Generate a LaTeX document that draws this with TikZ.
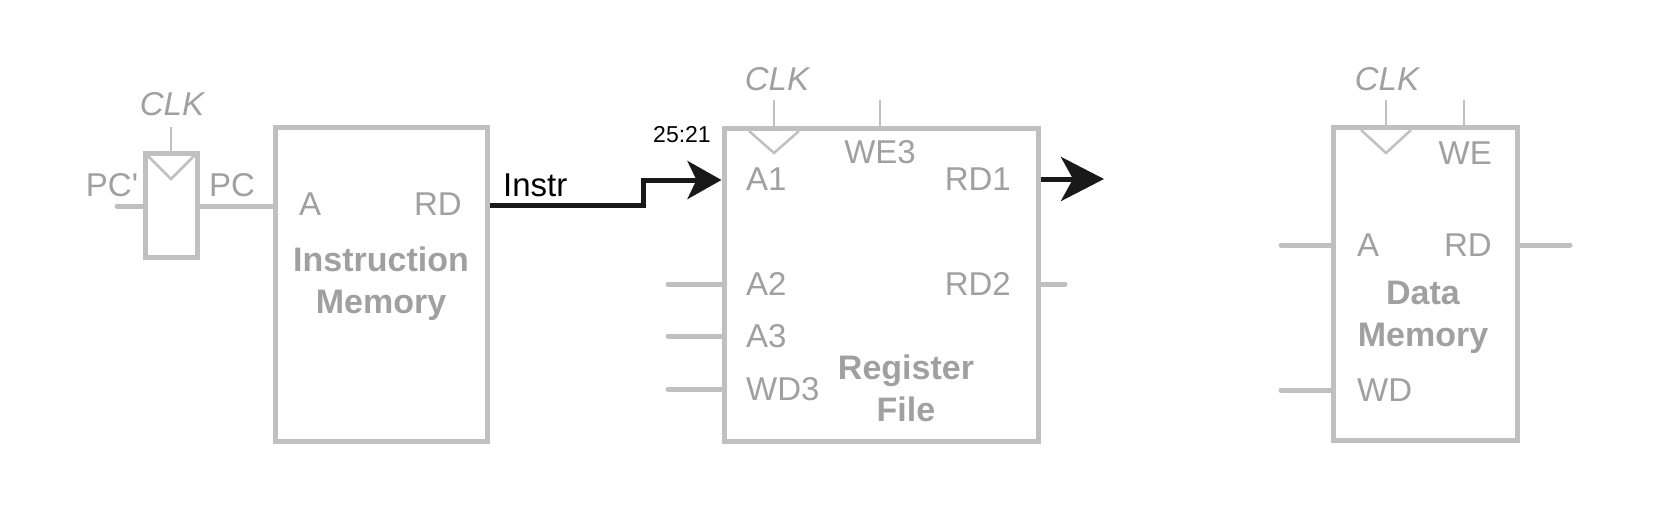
\documentclass[tikz,border=0pt]{standalone}
\usepackage{fontspec}
\setmainfont{Liberation Sans}
\usetikzlibrary{arrows.meta}
\definecolor{linegray}{RGB}{192,192,192}
\definecolor{textgray}{RGB}{160,160,160}
\tikzset{
  blockbox/.style={draw=linegray, line width=5pt, rectangle, inner sep=0pt, fill=none},
  pin/.style={draw=linegray, line width=5pt, line cap=round},
  thinpin/.style={draw=linegray, line width=2.5pt},
  clktri/.style={draw=linegray, line width=2.5pt},
  lbl/.style={text=textgray, font=\fontsize{33}{40}\selectfont, inner sep=0pt},
  ilbl/.style={text=textgray, font=\fontsize{33}{40}\selectfont\itshape, inner sep=0pt},
  blbl/.style={text=textgray, font=\fontsize{34}{42}\selectfont\bfseries, inner sep=0pt, align=center},
  wire/.style={draw=black!90, line width=5pt},
}
\begin{document}
\begin{tikzpicture}[x=1pt,y=-1pt]
\useasboundingbox (0,0) rectangle (1674,504);

% ---- PC register (flip-flop)
\node[blockbox, minimum width=52pt, minimum height=104pt] (ff) at (171,205) {};
\draw[clktri] (ff.north west) ++(3,3) coordinate (fft1) -- (171,179) coordinate (ffapex) -- ([shift={(-3,3)}]ff.north east) coordinate (fft2);
\coordinate (ffclk) at (171,127);
\draw[thinpin] (ffclk) -- (ff.north);
\node[ilbl] (ffclklbl) at (172,104) {CLK};
\coordinate (pcin) at (117,206);
\draw[pin] (pcin) -- (ff.west |- pcin);
\node[lbl] (pcplbl) at (112,185) {PC\textquotesingle};
\node[lbl] (pclbl) at (232,185) {PC};

% ---- Instruction memory
\node[blockbox, minimum width=212pt, minimum height=314pt] (im) at (381,284.5) {};
\draw[pin] (ff.east |- pcin) -- (im.west |- pcin);
\node[lbl, anchor=west] (imA) at (299,204) {A};
\node[lbl, anchor=east] (imRD) at (462,204) {RD};
\node[blbl] (imname) at (381,284) {Instruction\\Memory};

% ---- Register file
\node[blockbox, minimum width=314pt, minimum height=313pt] (rf) at (881,284.5) {};
\draw[clktri] (749,131) coordinate (rft1) -- (774,153) coordinate (rfapex) -- (799,131) coordinate (rft2);
\coordinate (rfclk) at (774,100);
\draw[thinpin] (rfclk) -- (rfclk |- rf.north);
\coordinate (rfwe) at (880,100);
\draw[thinpin] (rfwe) -- (rfwe |- rf.north);
\node[ilbl] (rfclklbl) at (777,79) {CLK};
\node[lbl] (we3) at (880,152) {WE3};
\node[lbl, anchor=west] (a1) at (746,179) {A1};
\node[lbl, anchor=west] (a2) at (746,284) {A2};
\node[lbl, anchor=west] (a3) at (746,336) {A3};
\node[lbl, anchor=west] (wd3) at (746,389) {WD3};
\node[lbl, anchor=east] (rd1) at (1011,179) {RD1};
\node[lbl, anchor=east] (rd2) at (1011,284) {RD2};
\node[blbl] (rfname) at (906,388) {Register\\File};
\coordinate (a2in) at (668,284);
\coordinate (a3in) at (668,336);
\coordinate (wd3in) at (668,389);
\draw[pin] (a2in) -- (rf.west |- a2in);
\draw[pin] (a3in) -- (rf.west |- a3in);
\draw[pin] (wd3in) -- (rf.west |- wd3in);
\coordinate (rd2out) at (1065,284);
\draw[pin] (rf.east |- rd2out) -- (rd2out);

% ---- Instr wire
\node[text=black, font=\fontsize{33}{40}\selectfont, inner sep=0pt, anchor=west] (instr) at (503,185) {Instr};
\node[text=black, font=\fontsize{23}{28}\selectfont, inner sep=0pt] (bits) at (682,135) {25:21};
\coordinate (step) at (643,205);
\draw[wire, -{Stealth[length=34pt,width=38pt,inset=9pt]}]
  (im.east |- step) -- (step) -- (643,180) -- (rf.west |- 0,180);
% ---- RD1 output
\coordinate (rd1out) at (1104,179);
\draw[wire, -{Stealth[length=43pt,width=44pt,inset=12pt]}] (rf.east |- rd1out) -- (rd1out);

% ---- Data memory
\node[blockbox, minimum width=184pt, minimum height=313pt] (dm) at (1425,283.5) {};
\draw[clktri] (1361,130) coordinate (dmt1) -- (1386,153) coordinate (dmapex) -- (1411,130) coordinate (dmt2);
\coordinate (dmclk) at (1386,100);
\draw[thinpin] (dmclk) -- (dmclk |- dm.north);
\coordinate (dmwe) at (1464,100);
\draw[thinpin] (dmwe) -- (dmwe |- dm.north);
\node[ilbl] (dmclklbl) at (1387,79) {CLK};
\node[lbl, anchor=east] (we) at (1492,153) {WE};
\node[lbl, anchor=west] (dmA) at (1357,245) {A};
\node[lbl, anchor=east] (dmRD) at (1492,245) {RD};
\node[lbl, anchor=west] (dmWD) at (1357,390) {WD};
\node[blbl] (dmname) at (1423,317) {Data\\Memory};
\coordinate (dmain) at (1281,245);
\draw[pin] (dmain) -- (dm.west |- dmain);
\coordinate (dmwdin) at (1281,390);
\draw[pin] (dmwdin) -- (dm.west |- dmwdin);
\coordinate (dmrdout) at (1570,245);
\draw[pin] (dm.east |- dmrdout) -- (dmrdout);
\end{tikzpicture}
\end{document}
